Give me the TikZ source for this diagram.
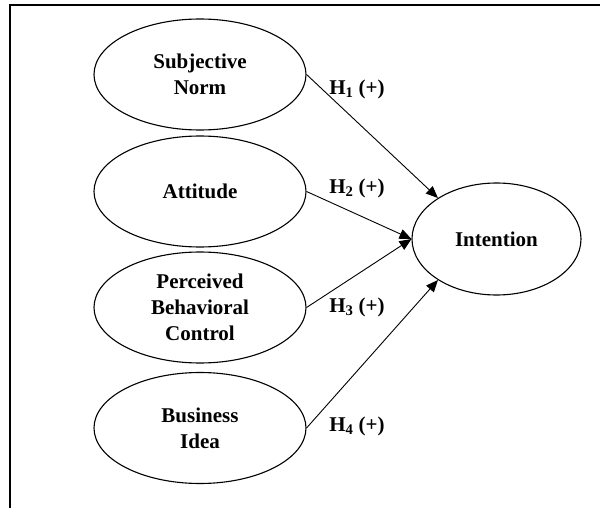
\documentclass[tikz,border=0pt]{standalone}
\usepackage{fontspec}
\setmainfont{Liberation Serif}
\usetikzlibrary{shapes.geometric,arrows.meta}
\begin{document}
\begin{tikzpicture}[x=1pt,y=-1pt,
  every node/.style={font=\fontsize{21}{26}\selectfont\bfseries},
  oval/.style={draw,ellipse,line width=1.1pt,inner sep=0pt,align=center,minimum width=212pt,minimum height=111pt},
  arr/.style={line width=0.9pt,-{Triangle[length=12pt,width=10pt]}},
  hlab/.style={inner sep=0pt}]
\useasboundingbox (0,0) rectangle (600,508);
\draw[line width=1.4pt] (10,508) -- (10,5) -- (600,5);
\node[oval] (sn) at (200,74.5) {Subjective\\Norm};
\node[oval] (att) at (200,191.5) {Attitude};
\node[oval] (pbc) at (200,307.5) {Perceived\\Behavioral\\Control};
\node[oval] (bi) at (200,428) {Business\\Idea};
\node[oval,minimum width=169pt,minimum height=112pt] (int) at (496.5,239) {Intention};
\draw[arr] (sn.east) -- (int.145);
\draw[arr] (att.east) -- (int.west);
\draw[arr] (pbc.east) -- (int.west);
\draw[arr] (bi.east) -- (int.215);
\node[hlab] (h1) at (357,89) {H\textsubscript{1} (+)};
\node[hlab] (h2) at (357,188) {H\textsubscript{2} (+)};
\node[hlab] (h3) at (357,307) {H\textsubscript{3} (+)};
\node[hlab] (h4) at (357,426) {H\textsubscript{4} (+)};
\end{tikzpicture}
\end{document}
